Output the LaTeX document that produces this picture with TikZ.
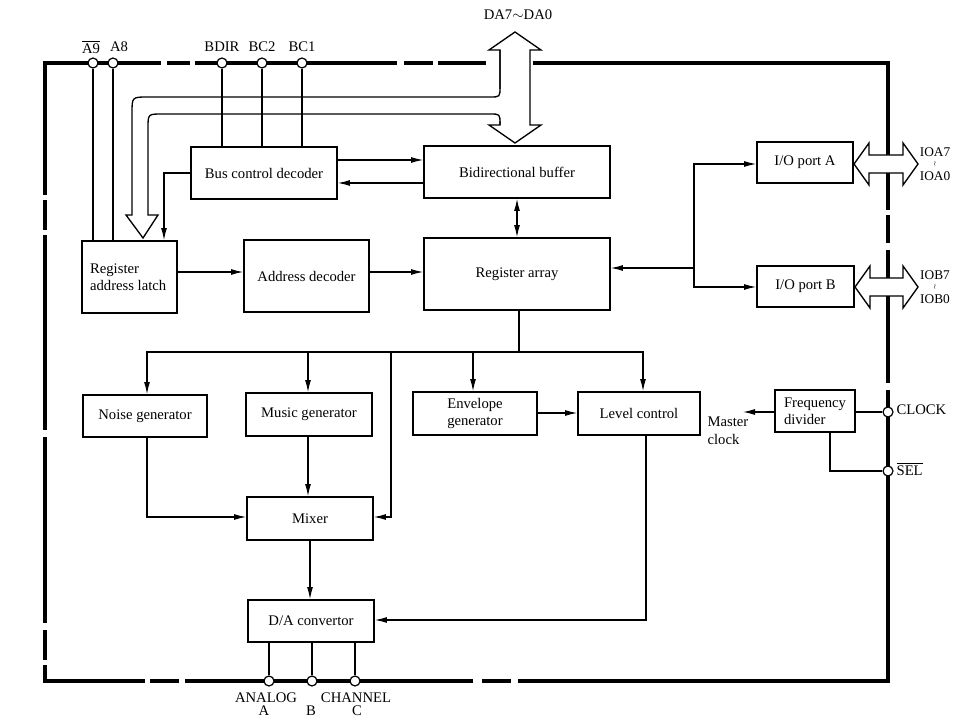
\documentclass[tikz,border=0pt]{standalone}
\usepackage{fontspec}
\setmainfont{Liberation Serif}
\usetikzlibrary{arrows.meta,fit}
\begin{document}
\begin{tikzpicture}[x=0.75pt,y=-0.75pt,
  box/.style={draw,line width=1.4pt,inner sep=0pt},
  bt/.style={font=\fontsize{11}{12.5}\selectfont},
  ln/.style={line width=0.8pt},
  arr/.style={ln,-{Latex[length=9pt,width=4.5pt]}},
  pin/.style={circle,draw,fill=white,line width=0.9pt,inner sep=0pt,minimum size=7.5pt},
  lab/.style={font=\fontsize{11}{11}\selectfont,inner sep=1pt},
  iol/.style={font=\fontsize{10}{10}\selectfont,inner sep=0pt},
  gap/.style={white,line width=5pt},
  bus/.style={line width=1pt,fill=white,line join=miter}]
\useasboundingbox (0,0) rectangle (957,727);
% border
\draw[line width=2.4pt] (45,63) rectangle (888,681);
\foreach \a/\b in {161/167,190/195,397/404,433/438,486/533}{\draw[gap] (\a,63) -- (\b,63);}
\foreach \a/\b in {210/215,243/250,383/390}{\draw[gap] (888,\a) -- (888,\b);}
\foreach \a/\b in {145/150,179/185,473/482,511/518}{\draw[gap] (\a,681) -- (\b,681);}
\foreach \a/\b in {195/200,230/235,430/437,623/630,660/665}{\draw[gap] (45,\a) -- (45,\b);}
% boxes
\node[box,fit={(191,147)(337,199)},label={[bt]center:Bus control decoder}] (bcd) {};
\node[box,fit={(424,146)(610,198)},label={[bt]center:Bidirectional buffer}] (bb) {};
\node[box,fit={(82,241)(177,313)},label={[bt,align=left,xshift=-1pt]center:Register\\address latch}] (ral) {};
\node[box,fit={(244,240)(369,312)},label={[bt]center:Address decoder}] (ad) {};
\node[box,fit={(424,238)(610,310)},label={[bt]center:Register array}] (ra) {};
\node[box,fit={(757,142)(853,183)},label={[bt]center:I/O port A}] (pa) {};
\node[box,fit={(757,266)(854,307)},label={[bt]center:I/O port B}] (pb) {};
\node[box,fit={(83,395)(207,437)},label={[bt]center:Noise generator}] (ng) {};
\node[box,fit={(246,393)(372,436)},label={[bt]center:Music generator}] (mg) {};
\node[box,fit={(413,392)(537,435)},label={[bt,align=center]center:Envelope\\generator}] (eg) {};
\node[box,fit={(578,392)(700,435)},label={[bt]center:Level control}] (lc) {};
\node[box,fit={(247,497)(373,540)},label={[bt]center:Mixer}] (mx) {};
\node[box,fit={(248,600)(374,642)},label={[bt]center:D/A convertor}] (da) {};
\node[box,fit={(775,390)(855,432)},label={[bt,align=left]center:Frequency\\divider}] (fd) {};
% DA bus arrow
\draw[bus] (515,32) -- (541,50) -- (530,50) -- (530,125) -- (541,125) -- (515,143) -- (489,125) -- (500,125) -- (500,50) -- (489,50) -- cycle;
\fill[white] (498,89) rectangle (502,121);
\draw[line width=1pt] (500,50) -- (500,87) .. controls (500,97) .. (490,97) -- (148,97) .. controls (132,97) .. (132,113) -- (132,215) -- (126,215) -- (143,238) -- (158,215) -- (148,215) -- (148,128) .. controls (148,114) .. (162,114) -- (490,114) .. controls (500,114) .. (500,124) -- (500,125);
% IO bus arrows
\draw[bus] (854,164) -- (869,143) -- (869,155) -- (903,155) -- (903,143) -- (918,164) -- (903,185) -- (903,173) -- (869,173) -- (869,185) -- cycle;
\draw[bus] (855,287) -- (870,266) -- (870,278) -- (903,278) -- (903,266) -- (918,287) -- (903,308) -- (903,296) -- (870,296) -- (870,308) -- cycle;
% pins
\node[pin] (pA9) at (93,63) {}; \node[pin] (pA8) at (113,63) {};
\node[pin] (pBD) at (222,63) {}; \node[pin] (pB2) at (262,63) {}; \node[pin] (pB1) at (302,63) {};
\node[pin] (pCK) at (888,412) {}; \node[pin] (pSL) at (888,471) {};
\node[pin] (pCA) at (269,681) {}; \node[pin] (pCB) at (312,681) {}; \node[pin] (pCC) at (355,681) {};
% pin labels
\node[lab] (lA9) at (91,47) {$\overline{\mbox{A9}}$};
\node[lab] (lA8) at (119,47) {A8};
\node[lab] (lBD) at (222,47) {BDIR};
\node[lab] (lB2) at (262,47) {BC2};
\node[lab] (lB1) at (302,47) {BC1};
\node[lab] (lDA) at (518,15) {DA7$\sim$DA0};
\node[lab,anchor=west] (lCK) at (895,410) {CLOCK};
\node[lab,anchor=west] (lSL) at (895,469) {$\overline{\mbox{SEL}}$};
\node[iol] (lIA1) at (935,152) {IOA7};
\node[iol] (lIA2) at (935,164) {\tiny$\wr$};
\node[iol] (lIA3) at (935,176) {IOA0};
\node[iol] (lIB1) at (935,275) {IOB7};
\node[iol] (lIB2) at (935,287) {\tiny$\wr$};
\node[iol] (lIB3) at (935,299) {IOB0};
\node[lab] (lAn) at (266,698) {ANALOG};
\node[lab] (lCh) at (356,698) {CHANNEL};
\node[lab] (lA) at (264,711) {A};
\node[lab] (lB) at (311,711) {B};
\node[lab] (lC) at (357,711) {C};
\node[lab,align=left,font=\fontsize{11}{14}\selectfont,anchor=north west] (mc) at (706,415) {Master\\clock};
% pin lines
\draw[ln] (pA9) -- (pA9 |- ral.north);
\draw[ln] (pA8) -- (pA8 |- ral.north);
\draw[ln] (pBD) -- (pBD |- bcd.north);
\draw[ln] (pB2) -- (pB2 |- bcd.north);
\draw[ln] (pB1) -- (pB1 |- bcd.north);
\draw[ln] (pCA) -- (pCA |- da.south);
\draw[ln] (pCB) -- (pCB |- da.south);
\draw[ln] (pCC) -- (pCC |- da.south);
% connectors
\draw[arr] (bcd.east |- 0,160) -- (bb.west |- 0,160);
\draw[arr] (bb.west |- 0,183) -- (bcd.east |- 0,183);
\draw[arr] (bcd.west |- 0,173) -| (164,0 |- ral.north);
\draw[arr] (ral.east |- 0,272) -- (ad.west |- 0,272);
\draw[arr] (ad.east |- 0,272) -- (ra.west |- 0,272);
\draw[ln,{Latex[length=9pt,width=4.5pt]}-{Latex[length=9pt,width=4.5pt]}] (517,0 |- bb.south) -- (517,0 |- ra.north);
\coordinate (j) at (694,268);
\draw[arr] (j) -- (ra.east |- j);
\draw[arr] (j) |- (pa.west |- 0,164);
\draw[arr] (j) |- (pb.west |- 0,287);
\draw[arr] (519,0 |- ra.south) -- (519,352) -| (147,0 |- ng.north);
\coordinate (t) at (519,352);
\draw[arr] (t) -| (308,0 |- mg.north);
\draw[arr] (t) -| (473,0 |- eg.north);
\draw[arr] (t) -| (643,0 |- lc.north);
\draw[arr] (391,352) |- (mx.east |- 0,517);
\draw[arr] (eg.east |- 0,413) -- (lc.west |- 0,413);
\draw[arr] (147,0 |- ng.south) |- (mx.west |- 0,517);
\draw[arr] (308,0 |- mg.south) -- (308,0 |- mx.north);
\draw[arr] (310,0 |- mx.south) -- (310,0 |- da.north);
\draw[arr] (646,0 |- lc.south) |- (da.east |- 0,620);
\draw[ln] (pCK) -- (fd.east |- pCK);
\draw[arr] (fd.west |- 0,412) -- (743,412);
\draw[ln] (830,0 |- fd.south) |- (pSL);
\end{tikzpicture}
\end{document}
